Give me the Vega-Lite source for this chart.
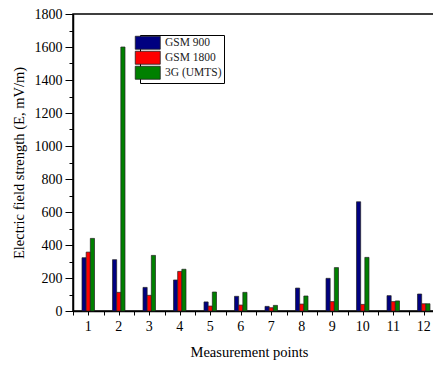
{
  "$schema": "https://vega.github.io/schema/vega-lite/v6.json",
  "autosize": {"type": "none"},
  "padding": {"left": 73, "top": 14, "right": 0, "bottom": 54},
  "width": 366,
  "height": 297,
  "config": {
    "font": "Liberation Serif, Times New Roman, serif",
    "view": {"stroke": "#000", "strokeWidth": 1.5},
    "axis": {"labelFont": "Liberation Serif, Times New Roman, serif", "titleFont": "Liberation Serif, Times New Roman, serif", "labelColor": "#000", "titleColor": "#000", "domainColor": "#000", "tickColor": "#000", "labelFontSize": 14, "titleFontSize": 14.5, "titleFontWeight": "normal", "grid": false, "domainWidth": 1.5, "tickWidth": 1}
  },
  "data": {"values": [
    {"point": 1, "network": "GSM 900", "E": 323}, {"point": 1, "network": "GSM 1800", "E": 357}, {"point": 1, "network": "3G (UMTS)", "E": 440},
    {"point": 2, "network": "GSM 900", "E": 311}, {"point": 2, "network": "GSM 1800", "E": 113}, {"point": 2, "network": "3G (UMTS)", "E": 1600},
    {"point": 3, "network": "GSM 900", "E": 143}, {"point": 3, "network": "GSM 1800", "E": 95}, {"point": 3, "network": "3G (UMTS)", "E": 337},
    {"point": 4, "network": "GSM 900", "E": 188}, {"point": 4, "network": "GSM 1800", "E": 240}, {"point": 4, "network": "3G (UMTS)", "E": 253},
    {"point": 5, "network": "GSM 900", "E": 55}, {"point": 5, "network": "GSM 1800", "E": 30}, {"point": 5, "network": "3G (UMTS)", "E": 115},
    {"point": 6, "network": "GSM 900", "E": 89}, {"point": 6, "network": "GSM 1800", "E": 36}, {"point": 6, "network": "3G (UMTS)", "E": 113},
    {"point": 7, "network": "GSM 900", "E": 28}, {"point": 7, "network": "GSM 1800", "E": 20}, {"point": 7, "network": "3G (UMTS)", "E": 34},
    {"point": 8, "network": "GSM 900", "E": 139}, {"point": 8, "network": "GSM 1800", "E": 42}, {"point": 8, "network": "3G (UMTS)", "E": 91},
    {"point": 9, "network": "GSM 900", "E": 198}, {"point": 9, "network": "GSM 1800", "E": 57}, {"point": 9, "network": "3G (UMTS)", "E": 263},
    {"point": 10, "network": "GSM 900", "E": 662}, {"point": 10, "network": "GSM 1800", "E": 40}, {"point": 10, "network": "3G (UMTS)", "E": 325},
    {"point": 11, "network": "GSM 900", "E": 93}, {"point": 11, "network": "GSM 1800", "E": 57}, {"point": 11, "network": "3G (UMTS)", "E": 61},
    {"point": 12, "network": "GSM 900", "E": 103}, {"point": 12, "network": "GSM 1800", "E": 44}, {"point": 12, "network": "3G (UMTS)", "E": 44}
  ]},
  "layer": [
    {
      "mark": {"type": "bar", "stroke": "#222", "strokeWidth": 0.7},
      "encoding": {
        "x": {"field": "point", "type": "ordinal", "scale": {"paddingInner": 0.59, "paddingOuter": 0.295},
              "axis": {"title": "Measurement points", "labelAngle": 0, "ticks": false, "labelPadding": 8, "titlePadding": 12, "titleX": 176}},
        "xOffset": {"field": "network", "type": "nominal", "sort": ["GSM 900", "GSM 1800", "3G (UMTS)"], "scale": {"paddingInner": 0, "paddingOuter": 0}},
        "y": {"field": "E", "type": "quantitative", "scale": {"domain": [0, 1800], "nice": false},
              "axis": {"title": "Electric field strength (E, mV/m)", "format": "d", "values": [0,100,200,300,400,500,600,700,800,900,1000,1100,1200,1300,1400,1500,1600,1700,1800],
                       "labelExpr": "datum.value % 200 === 0 ? datum.label : ''", "tickSize": {"expr": "datum.value % 200 === 0 ? 8 : 4"}, "labelPadding": 3, "titlePadding": 8}},
        "color": {"field": "network", "type": "nominal", "sort": ["GSM 900", "GSM 1800", "3G (UMTS)"],
                  "scale": {"domain": ["GSM 900", "GSM 1800", "3G (UMTS)"], "range": ["#000080", "#ff0000", "#008000"]},
                  "legend": {"title": null, "orient": "none", "legendX": 67, "legendY": 21, "padding": 2,
                             "symbolType": "M-2.5,-1.3L2.5,-1.3L2.5,1.3L-2.5,1.3Z", "symbolSize": 100, "symbolStrokeColor": "#222", "symbolStrokeWidth": 0.8, "symbolOpacity": 1,
                             "labelFont": "Liberation Serif, Times New Roman, serif", "labelFontSize": 11.5, "labelColor": "#222", "rowPadding": -2, "labelOffset": 11.5,
                             "encode": {"legend": {"update": {"stroke": {"value": "#000"}, "strokeWidth": {"value": 1}, "fill": {"value": "#fff"}}}}}}
      }
    },
    {
      "data": {"values": [{"p": 0.5}, {"p": 12.5}]},
      "mark": {"type": "rule", "opacity": 0},
      "encoding": {
        "x": {"field": "p", "type": "quantitative", "scale": {"domain": [0.5, 12.5], "nice": false, "zero": false},
              "axis": {"orient": "bottom", "title": null, "labels": false, "domain": false, "tickSize": 4,
                       "values": [0.5,1,1.5,2,2.5,3,3.5,4,4.5,5,5.5,6,6.5,7,7.5,8,8.5,9,9.5,10,10.5,11,11.5,12,12.5]}}
      }
    }
  ],
  "resolve": {"scale": {"x": "independent"}, "axis": {"x": "independent"}}
}
